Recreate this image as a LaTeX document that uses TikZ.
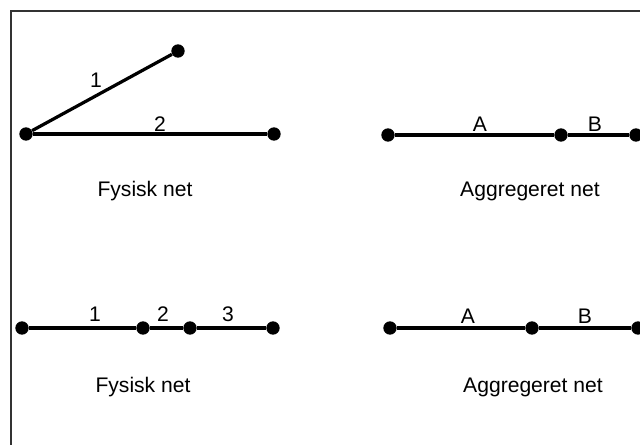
\documentclass[tikz,border=0pt]{standalone}
\usepackage{fontspec}
\setmainfont{Liberation Sans}
\usetikzlibrary{positioning}

\tikzset{
  knude/.style={circle, fill=black, inner sep=0pt, minimum size=9.5pt},
  kant/.style={line width=2.3pt},
  tekst/.style={font=\fontsize{15}{17}\selectfont, inner sep=1pt},
}

\begin{document}
\begin{tikzpicture}[x=0.025cm, y=-0.025cm]
    \useasboundingbox (0,0) rectangle (640,445);
    % ramme
    \draw[line width=0.8pt, black!80] (640,11) -- (11,11) -- (11,445);

    % Fysisk net (oeverst)
    \node[knude] (f1a) at (26,134) {};
    \node[knude] (f1b) at (178,51) {};
    \node[knude] (f1c) at (274,134) {};
    \draw[kant] (f1a) -- (f1b);
    \draw[kant] (f1a) -- (f1c);
    \node[tekst] (f1l1) at (96,80) {1};
    \node[tekst] (f1l2) at (160,124) {2};
    \node[tekst] (f1navn) at (145,191) {Fysisk net};

    % Aggregeret net (oeverst)
    \node[knude] (a1a) at (388,135) {};
    \node[knude] (a1b) at (561,135) {};
    \node[knude] (a1c) at (636,135) {};
    \draw[kant] (a1a) -- (a1b) -- (a1c);
    \node[tekst] (a1lA) at (480,124) {A};
    \node[tekst] (a1lB) at (595,124) {B};
    \node[tekst] (a1navn) at (530,191) {Aggregeret net};

    % Fysisk net (nederst)
    \node[knude] (f2a) at (22,328) {};
    \node[knude] (f2b) at (143,328) {};
    \node[knude] (f2c) at (190,328) {};
    \node[knude] (f2d) at (273,328) {};
    \draw[kant] (f2a) -- (f2b) -- (f2c) -- (f2d);
    \node[tekst] (f2l1) at (95,314) {1};
    \node[tekst] (f2l2) at (163,314) {2};
    \node[tekst] (f2l3) at (228,314) {3};
    \node[tekst] (f2navn) at (143,387) {Fysisk net};

    % Aggregeret net (nederst)
    \node[knude] (a2a) at (390,328) {};
    \node[knude] (a2b) at (532,328) {};
    \node[knude] (a2c) at (638,328) {};
    \draw[kant] (a2a) -- (a2b) -- (a2c);
    \node[tekst] (a2lA) at (468,316) {A};
    \node[tekst] (a2lB) at (585,316) {B};
    \node[tekst] (a2navn) at (533,387) {Aggregeret net};
\end{tikzpicture}
\end{document}
